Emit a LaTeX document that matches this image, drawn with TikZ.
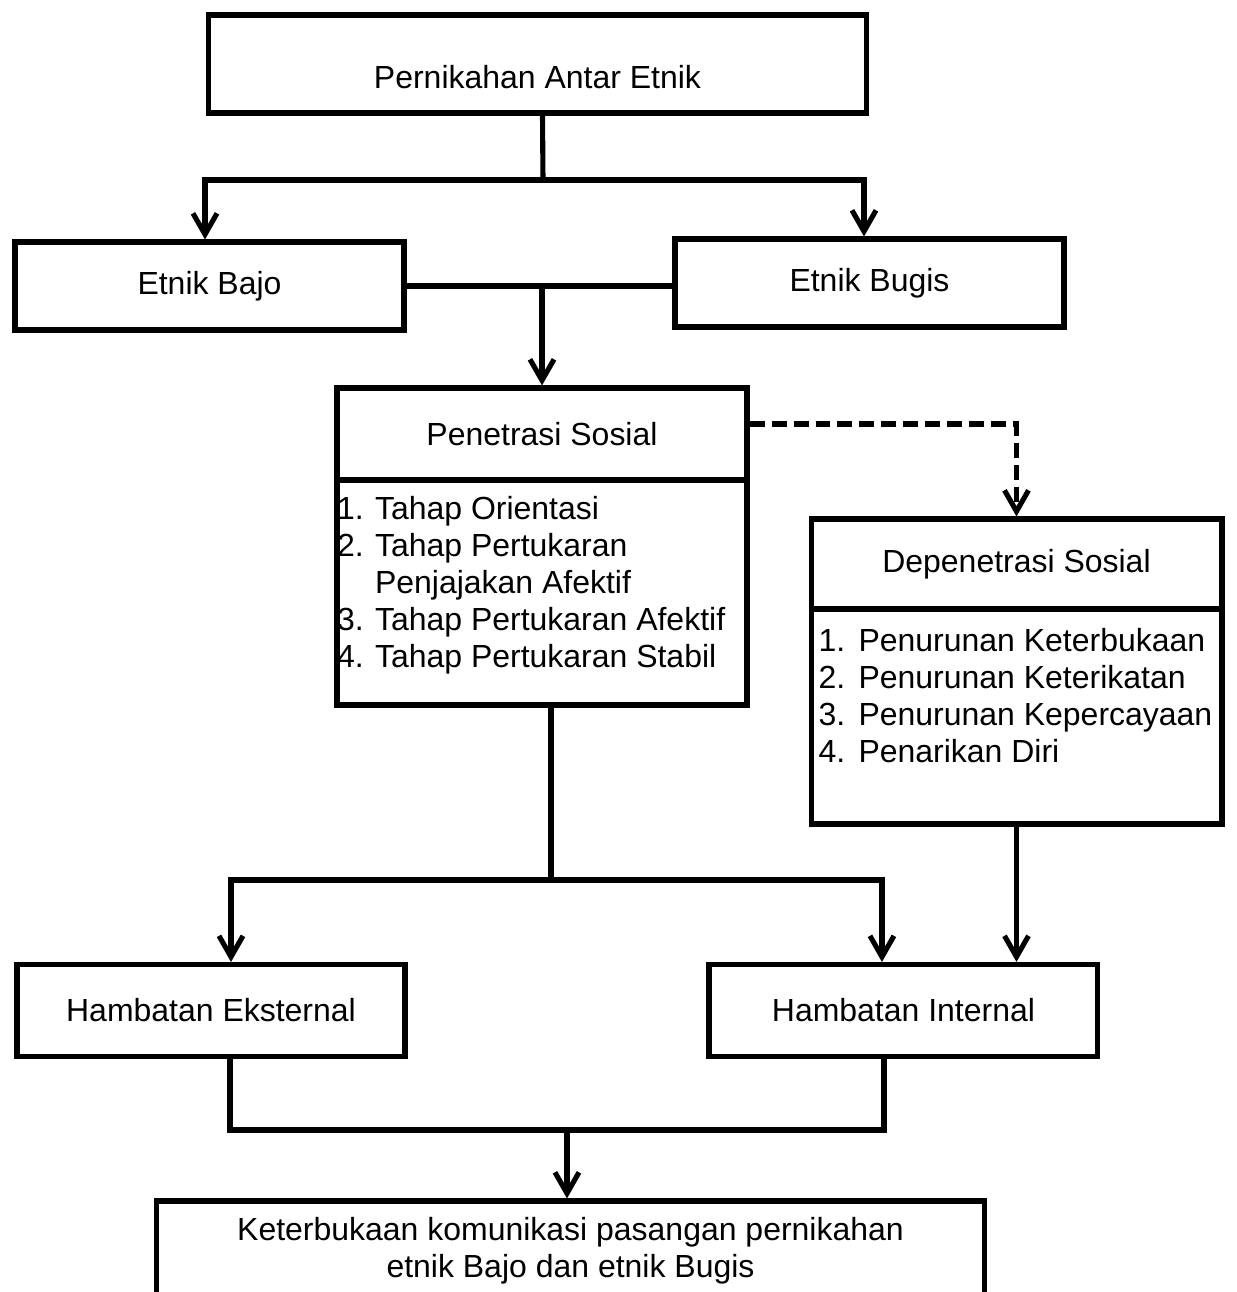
\documentclass[tikz,border=0pt]{standalone}
\usepackage{fontspec}
\setmainfont{Liberation Sans}
\usetikzlibrary{arrows.meta,positioning}

\begin{document}
\begin{tikzpicture}[
    x=0.02cm, y=-0.02cm,
    font=\fontsize{18.2}{21}\selectfont,
    box/.style={rectangle, draw, line width=2.9pt, minimum width=7.78cm, minimum height=1.76cm, inner sep=0pt},
    conn/.style={line width=2.9pt},
    arrow/.style={conn, -{Straight Barb[length=0.42cm, width=0.48cm]}},
    dasharrow/.style={arrow, dash pattern=on 0.3cm off 0.14cm}
  ]
    \useasboundingbox (0,0) rectangle (1237,1292);

    \node[box, minimum width=13.18cm, minimum height=1.96cm, text height=0.98cm, text depth=0pt] (marriage) at (537.5,64) {Pernikahan Antar Etnik};
    \node[box] (bajo) at (209.5,286) {Etnik Bajo};
    \node[box] (bugis) at (869.5,283) {Etnik Bugis};

    \node[box, minimum width=8.2cm, minimum height=1.84cm] (pen) at (542,434) {Penetrasi Sosial};
    \node[box, below=-2.9pt of pen, inner ysep=0.28cm] (penlist) {\parbox[c][3.94cm][t]{8.2cm}{%
      \begin{tabular}{@{}p{0.76cm}@{}l@{}}
        1. & Tahap Orientasi\\
        2. & Tahap Pertukaran\\
           & Penjajakan Afektif\\
        3. & Tahap Pertukaran Afektif\\
        4. & Tahap Pertukaran Stabil
      \end{tabular}}};

    \node[box, minimum width=8.22cm, minimum height=1.8cm] (dep) at (1016.5,564) {Depenetrasi Sosial};
    \node[box, below=-2.9pt of dep, inner xsep=0.15cm, inner ysep=0.34cm] (deplist) {\parbox[c][3.62cm][t]{7.92cm}{%
      \begin{tabular}{@{}p{0.8cm}@{}l@{}}
        1. & Penurunan Keterbukaan\\
        2. & Penurunan Keterikatan\\
        3. & Penurunan Kepercayaan\\
        4. & Penarikan Diri
      \end{tabular}}};

    \node[box, minimum width=7.76cm, minimum height=1.84cm] (eks) at (211,1010.5) {Hambatan Eksternal};
    \node[box, minimum height=1.84cm, right=5.98cm of eks] (int) {Hambatan Internal};

    \node[box, minimum width=16.58cm, minimum height=2cm, align=center] (result) at (570.5,1251)
      {Keterbukaan komunikasi pasangan pernikahan\\etnik Bajo dan etnik Bugis};

    % top split
    \coordinate (split) at (543,180);
    \draw[conn] ([xshift=0.1cm]marriage.south) -- (split);
    \draw[arrow] (split) -| ([xshift=-0.09cm]bajo.north);
    \draw[arrow] (split) -| ([xshift=-0.11cm]bugis.north);

    \draw[conn] (bajo.east) -- (bajo.east -| bugis.west);
    \draw[arrow] (bajo.east -| pen.north) -- (pen.north);
    \draw[dasharrow] ([yshift=0.2cm]pen.east) -| (dep.north);

    % barriers
    \coordinate (merge) at (551,880);
    \draw[conn] (penlist.south -| merge) -- (merge);
    \draw[arrow] (merge) -| ([xshift=0.4cm]eks.north);
    \draw[arrow] (merge) -| ([xshift=-0.43cm]int.north);
    \draw[arrow] (deplist.south) -- (deplist.south |- int.north);

    \coordinate (join) at (567,1130);
    \draw[conn] ([xshift=0.38cm]eks.south) |- (join) -| ([xshift=-0.39cm]int.south);
    \draw[arrow] (join) -- (join |- result.north);
  \end{tikzpicture}
\end{document}
